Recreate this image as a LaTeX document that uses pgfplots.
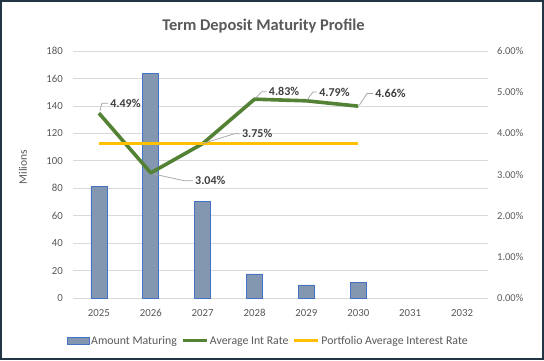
\documentclass[border=0pt]{standalone}
\usepackage{fontspec}
\setmainfont{Carlito}
\usepackage{pgfplots}
\pgfplotsset{compat=1.18}
\definecolor{txt}{HTML}{595959}
\definecolor{grd}{HTML}{D9D9D9}
\definecolor{barfill}{HTML}{8497B0}
\definecolor{barline}{HTML}{4472C4}
\definecolor{grn}{HTML}{548235}
\definecolor{ylw}{HTML}{FFC000}
\definecolor{framec}{HTML}{243447}
\definecolor{lead}{HTML}{A6A6A6}
\definecolor{lbl}{HTML}{404040}
\begin{document}
\begin{tikzpicture}[x=1pt,y=1pt,
  dl/.style={anchor=west, inner sep=2pt, text=lbl, font=\fontsize{12}{14}\selectfont\bfseries},
  ld/.style={lead, line width=0.75pt}]
\fill[white] (0,0) rectangle (544,360);
\node[font=\fontsize{16.4}{18}\selectfont\bfseries, text=txt] at (263.5,334) {Term Deposit Maturity Profile};
\begin{axis}[
  at={(73pt,62pt)}, anchor=south west, scale only axis,
  width=415pt, height=247pt,
  xmin=-0.5, xmax=7.5, ymin=0, ymax=180,
  xtick={0,1,2,3,4,5,6,7},
  xticklabels={2025,2026,2027,2028,2029,2030,2031,2032},
  ytick={0,20,...,180},
  axis line style={draw=none}, major tick length=0pt,
  ymajorgrids, grid style={grd, line width=0.75pt},
  tick label style={font=\fontsize{10.8}{12}\selectfont, text=txt},
  /pgf/number format/assume math mode=true,
  yticklabel style={anchor=east, inner sep=0pt, xshift=-10pt},
  xticklabel style={anchor=base, inner sep=0pt, yshift=-18.5pt},
  ylabel={Milions},
  ylabel style={at={(axis description cs:-0.1205,0.53)}, anchor=center, font=\fontsize{11.5}{13}\selectfont, text=txt},
  clip=false,
]
\addplot[ybar, bar width=16pt, fill=barfill, draw=barline, line width=0.8pt]
  coordinates {(0,81.1) (1,163.8) (2,70.2) (3,17.5) (4,9.5) (5,11.4)};
\end{axis}
\begin{axis}[
  at={(73pt,62pt)}, anchor=south west, scale only axis,
  width=415pt, height=247pt,
  xmin=-0.5, xmax=7.5, ymin=0, ymax=6,
  ytick={0,1,2,3,4,5,6},
  hide x axis, axis y line*=right,
  axis line style={draw=none}, major tick length=0pt,
  tick label style={font=\fontsize{10.5}{12}\selectfont, text=txt},
  /pgf/number format/assume math mode=true,
  yticklabel={\pgfmathprintnumber[fixed,fixed zerofill,precision=2]{\tick}\%},
  yticklabel style={anchor=west, inner sep=0pt, xshift=9pt},
  legend columns=3,
  legend style={at={(0.47,-0.174)}, anchor=center, draw=none, fill=none,
    font=\fontsize{11.8}{13}\selectfont, text=txt, inner sep=0pt,
    /tikz/every even column/.append style={column sep=3pt},
    nodes={inner sep=1.5pt}},
  legend cell align=left,
  clip=false,
]
\addlegendimage{legend image code/.code={\draw[fill=barfill,draw=barline,line width=0.8pt] (0pt,-3.5pt) rectangle (22pt,3.5pt);}}
\addlegendentry{Amount Maturing}
\addplot[grn, line width=3.6pt, line join=round,
  legend image code/.code={\draw[grn,line width=3pt] (0pt,0pt) -- (24pt,0pt);}]
  coordinates {(0,4.49) (1,3.04) (2,3.75) (3,4.83) (4,4.79) (5,4.66)};
\addlegendentry{Average Int Rate}
\addplot[ylw, line width=3pt,
  legend image code/.code={\draw[ylw,line width=3pt] (0pt,0pt) -- (24pt,0pt);}]
  coordinates {(0,3.75) (5,3.75)};
\addlegendentry{Portfolio Average Interest Rate}
\draw[ld] (axis cs:0,4.49) ++(1pt,2pt) -- ++(2pt,8pt) -- ++(6pt,0pt) node[dl] {4.49\%};
\draw[ld] (axis cs:1,3.04) ++(2pt,-1pt) -- ++(32pt,-7pt) -- ++(8pt,0pt) node[dl] {3.04\%};
\draw[ld] (axis cs:2,3.75) -- ++(32pt,10pt) -- ++(5pt,0pt) node[dl] {3.75\%};
\draw[ld] (axis cs:3,4.83) ++(1pt,1pt) -- ++(6pt,6.3pt) -- ++(5pt,0pt) node[dl] {4.83\%};
\draw[ld] (axis cs:4,4.79) ++(0.5pt,0.8pt) -- ++(6pt,8pt) -- ++(4pt,0pt) node[dl] {4.79\%};
\draw[ld] (axis cs:5,4.66) ++(1pt,1pt) -- ++(7.7pt,11.7pt) -- ++(6pt,0pt) node[dl] {4.66\%};
\end{axis}
\draw[framec, line width=2pt] (1,1) rectangle (543,359);
\end{tikzpicture}
\end{document}
